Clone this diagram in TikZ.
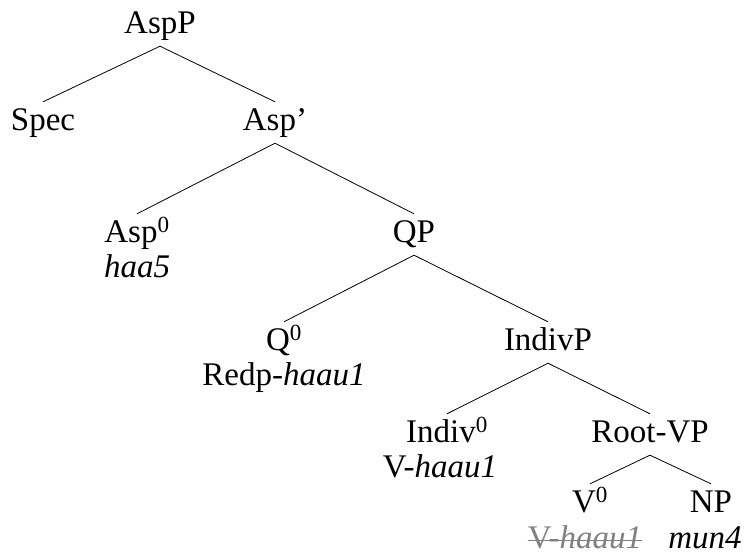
\documentclass[tikz,border=0pt]{standalone}
\usepackage{fontspec}
\setmainfont{Liberation Serif}
\definecolor{strikegray}{RGB}{128,128,128}
\begin{document}
\begin{tikzpicture}[x=1pt,y=-1pt,
  every node/.style={font=\fontsize{33}{39}\selectfont, inner sep=0pt},
  cat/.style={anchor=base, text height=23pt, text depth=8pt, inner sep=5pt},
  word/.style={anchor=base},
  branch/.style={draw=black, line width=0.8pt}]
\useasboundingbox (0,0) rectangle (749,557);
\node[cat] (aspp) at (160,33) {AspP};
\node[cat] (spec) at (43,130) {Spec};
\node[cat] (aspbar) at (275,130) {Asp'};
\node[cat] (asp0) at (137,242) {Asp\textsuperscript{0}};
\node[word] (haa) at (137,277) {\textit{haa5}};
\node[cat] (qp) at (414,242) {QP};
\node[cat] (q0) at (284,350) {Q\textsuperscript{0}};
\node[word] (redp) at (284,385) {Redp-\textit{haau1}};
\node[cat] (indivp) at (548,350) {IndivP};
\node[cat] (indiv0) at (447,442) {Indiv\textsuperscript{0}};
\node[word] (vh1) at (440,477) {V-\textit{haau1}};
\node[cat] (rootvp) at (650,442) {Root-VP};
\node[cat] (v0) at (590,512) {V\textsuperscript{0}};
\node[word, text=strikegray] (vh2) at (585,548) {V-\textit{haau1}};
\node[cat] (np) at (711,512) {NP};
\node[word] (mun) at (705,548) {\textit{mun4}};
\draw[strikegray, line width=1pt] ([yshift=8pt]vh2.base west) -- ([yshift=8pt]vh2.base east);
\draw[branch] (aspp.south) -- (spec.north);
\draw[branch] (aspp.south) -- (aspbar.north);
\draw[branch] (aspbar.south) -- (asp0.north);
\draw[branch] (aspbar.south) -- (qp.north);
\draw[branch] (qp.south) -- (q0.north);
\draw[branch] (qp.south) -- (indivp.north);
\draw[branch] (indivp.south) -- (indiv0.north);
\draw[branch] (indivp.south) -- (rootvp.north);
\draw[branch] (rootvp.south) -- (v0.north);
\draw[branch] (rootvp.south) -- (np.north);
\end{tikzpicture}
\end{document}
